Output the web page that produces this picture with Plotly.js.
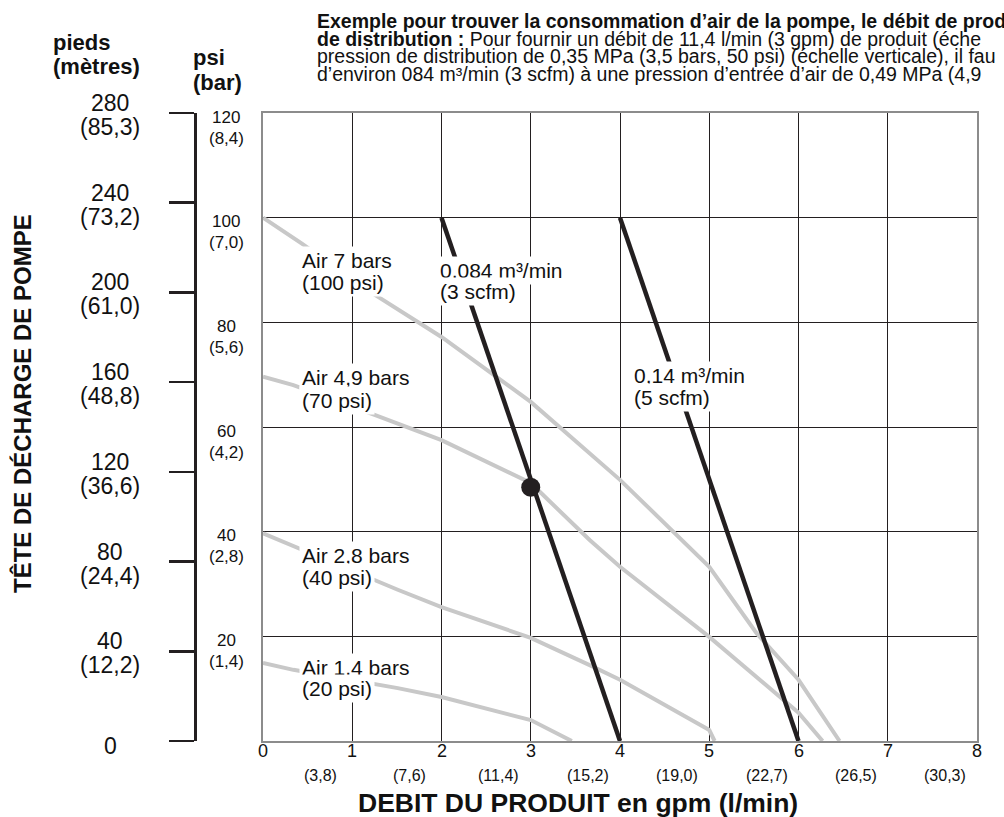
<!DOCTYPE html>
<html><head><meta charset="utf-8">
<script src="https://cdn.plot.ly/plotly-3.0.1.min.js"></script>
<style>html,body{margin:0;padding:0;background:#fff}</style>
</head><body><div id="chart" style="width:1004px;height:817px"></div>
<script>
// ---- data ----
const flowTicks = [0,1,2,3,4,5,6,7,8];
const flowLpm = ['','(3,8)','(7,6)','(11,4)','(15,2)','(19,0)','(22,7)','(26,5)','(30,3)'];
const psiTicks = [20,40,60,80,100,120];
const barLabels = ['(1,4)','(2,8)','(4,2)','(5,6)','(7,0)','(8,4)'];
const feetTicks = [0,40,80,120,160,200,240,280];
const meterLabels = ['','(12,2)','(24,4)','(36,6)','(48,8)','(61,0)','(73,2)','(85,3)'];

const air100Gpm = [0,0.44,1.14,2,3,4,5,5.53,6,6.46];
const air100Psi = [100,95,86.5,77.2,64.8,49.9,33.3,20.6,11.7,0];
const air70Gpm  = [0,0.34,1.25,2,3,3.66,4,5,6,6.27];
const air70Psi  = [69.6,68,62.3,57.5,49.3,38.4,33.3,19.9,5.4,0];
const air40Gpm  = [0,0.36,1.51,2,3,3.66,4,5,5.06];
const air40Psi  = [39.7,37.1,28.9,25.6,19.7,14.5,11.7,2.1,0];
const air20Gpm  = [0,0.34,1.51,2,3,3.46];
const air20Psi  = [14.9,13.6,10.1,8.4,4.0,0];
const scfm3Gpm = [2,4];
const scfm3Psi = [100,0];
const scfm5Gpm = [4,6];
const scfm5Psi = [100,0];
const exampleGpm = [3];
const examplePsi = [48.5];

const curveLabels = [
  {l1:'Air 7 bars', l2:'(100 psi)', x:0.40, y1:91.9, y2:87.7},
  {l1:'Air 4,9 bars', l2:'(70 psi)', x:0.40, y1:69.4, y2:65.0},
  {l1:'Air 2,8 bars', l2:'(40 psi)', x:0.40, y1:35.5, y2:31.3},
  {l1:'Air 1,4 bars', l2:'(20 psi)', x:0.40, y1:14.1, y2:10.1},
  {l1:'0,084 m³/min', l2:'(3 scfm)', x:1.95, y1:90.0, y2:85.8},
  {l1:'0,14 m³/min', l2:'(5 scfm)', x:4.12, y1:69.9, y2:65.7}
];
const noteLines = [
  '<b>Exemple pour trouver la consommation d’air de la pompe, le débit de prod</b>',
  '<b>de distribution :</b> Pour fournir un débit de 11,4 l/min (3 gpm) de produit (éche',
  'pression de distribution de 0,35 MPa (3,5 bars, 50 psi) (échelle verticale), il fau',
  'd’environ 084 m³/min (3 scfm) à une pression d’entrée d’air de 0,49 MPa (4,9'
];

// ---- layout ----
const W = 1004, H = 817, ML = 150, MR = 27, MT = 113, MB = 76;
const PW = W - ML - MR, PH = H - MT - MB;
const px2paperX = p => (p - ML) / PW;
const px2paperY = p => 1 - (p - MT) / PH;
const FONT = 'Liberation Sans, Arial, Helvetica, sans-serif';
const INK = '#231f20';
const GRAY = '#c8c8c8';
const TXT = '#111';

const traces = [];
function curve(xs, ys, color, width) {
  traces.push({x: xs, y: ys, mode: 'lines', line: {color: color, width: width}, hoverinfo: 'skip', showlegend: false});
}
// invisible trace that realises the feet axis (overlaying the psi axis)
traces.push({x: [null], y: [null], yaxis: 'y2', mode: 'markers', hoverinfo: 'skip', showlegend: false});
curve(air100Gpm, air100Psi, GRAY, 4);
curve(air70Gpm, air70Psi, GRAY, 4);
curve(air40Gpm, air40Psi, GRAY, 4);
curve(air20Gpm, air20Psi, GRAY, 4);
curve(scfm3Gpm, scfm3Psi, INK, 4.5);
curve(scfm5Gpm, scfm5Psi, INK, 4.5);
traces.push({x: exampleGpm, y: examplePsi, mode: 'markers', marker: {color: INK, size: 19}, hoverinfo: 'skip', showlegend: false});

const ann = [];
curveLabels.forEach(c => {
  [[c.l1, c.y1], [c.l2, c.y2]].forEach(([t, y]) => ann.push({
    xref: 'x', yref: 'y', x: c.x, y: y, xanchor: 'left', yanchor: 'middle',
    text: t, showarrow: false, bgcolor: '#fff', borderpad: 2,
    font: {family: FONT, size: 21, color: TXT}
  }));
});
// x tick labels
flowTicks.forEach((v, i) => {
  ann.push({xref: 'x', yref: 'paper', x: v, y: 0, yshift: -10, yanchor: 'middle', xanchor: 'center',
    text: String(v), showarrow: false, font: {family: FONT, size: 18, color: TXT}});
  if (flowLpm[i]) ann.push({xref: 'x', yref: 'paper', x: v, y: 0, yshift: -34, xshift: -32, yanchor: 'middle', xanchor: 'center',
    text: flowLpm[i], showarrow: false, font: {family: FONT, size: 16, color: TXT}});
});
// psi / bar labels
psiTicks.forEach((v, i) => {
  ann.push({xref: 'paper', yref: 'y', x: px2paperX(226), y: v, yshift: -4, yanchor: 'middle', xanchor: 'center',
    text: String(v), showarrow: false, font: {family: FONT, size: 17, color: TXT}});
  ann.push({xref: 'paper', yref: 'y', x: px2paperX(226), y: v, yshift: -25, yanchor: 'middle', xanchor: 'center',
    text: barLabels[i], showarrow: false, font: {family: FONT, size: 17, color: TXT}});
});
// feet / metres labels
feetTicks.forEach((v, i) => {
  const two = meterLabels[i] !== '';
  ann.push({xref: 'paper', yref: 'y2', x: px2paperX(110), y: v, yshift: two ? 10 : -5, yanchor: 'middle', xanchor: 'center',
    text: String(v), showarrow: false, font: {family: FONT, size: 23, color: TXT}});
  if (two) ann.push({xref: 'paper', yref: 'y2', x: px2paperX(110), y: v, yshift: -14, yanchor: 'middle', xanchor: 'center',
    text: meterLabels[i], showarrow: false, font: {family: FONT, size: 23, color: TXT}});
});
// headers
const hdr = (t, xp, yp) => ann.push({xref: 'paper', yref: 'paper', x: px2paperX(xp), y: px2paperY(yp),
  xanchor: 'left', yanchor: 'middle', text: '<b>' + t + '</b>', showarrow: false, borderpad: 0,
  font: {family: FONT, size: 22, color: TXT}});
hdr('pieds', 52, 42);
hdr('(mètres)', 52, 67);
hdr('psi', 192, 57);
hdr('(bar)', 192, 82);
// note text
noteLines.forEach((t, i) => ann.push({xref: 'paper', yref: 'paper', x: px2paperX(316), y: px2paperY(21 + i * 17.6),
  xanchor: 'left', yanchor: 'middle', text: t, showarrow: false, borderpad: 0,
  font: {family: FONT, size: 19.5, color: TXT}}));
// axis titles
ann.push({xref: 'paper', yref: 'paper', x: px2paperX(578), y: px2paperY(803), xanchor: 'center', yanchor: 'middle',
  text: '<b>DEBIT DU PRODUIT en gpm (l/min)</b>', showarrow: false, font: {family: FONT, size: 26.5, color: TXT}});
ann.push({xref: 'paper', yref: 'paper', x: px2paperX(22), y: px2paperY(404), xanchor: 'center', yanchor: 'middle', textangle: -90,
  text: '<b>TÊTE DE DÉCHARGE DE POMPE</b>', showarrow: false, font: {family: FONT, size: 24, color: TXT}});

const layout = {
  width: W, height: H,
  margin: {l: ML, r: MR, t: MT, b: MB, pad: 0},
  paper_bgcolor: '#fff', plot_bgcolor: '#fff',
  showlegend: false,
  xaxis: {domain: [px2paperX(263), 1], range: [0, 8], tickvals: flowTicks, showticklabels: false, ticks: '',
    showgrid: true, gridcolor: INK, gridwidth: 1, zeroline: false,
    showline: true, mirror: true, linecolor: '#8c8c8c', linewidth: 2, fixedrange: true},
  yaxis: {domain: [0, 1], range: [0, 120], tickvals: psiTicks, showticklabels: false, ticks: '',
    showgrid: true, gridcolor: INK, gridwidth: 1, zeroline: false,
    showline: true, mirror: true, linecolor: '#8c8c8c', linewidth: 2, fixedrange: true},
  yaxis2: {overlaying: 'y', range: [0, 280], anchor: 'free', position: px2paperX(195), side: 'left',
    tickvals: feetTicks, showticklabels: false, ticks: 'outside', ticklen: 25, tickwidth: 2.5, tickcolor: INK,
    showline: true, linecolor: INK, linewidth: 2.5, showgrid: false, zeroline: false, fixedrange: true},
  annotations: ann
};
Plotly.newPlot('chart', traces, layout, {staticPlot: true, displayModeBar: false});
</script></body></html>
